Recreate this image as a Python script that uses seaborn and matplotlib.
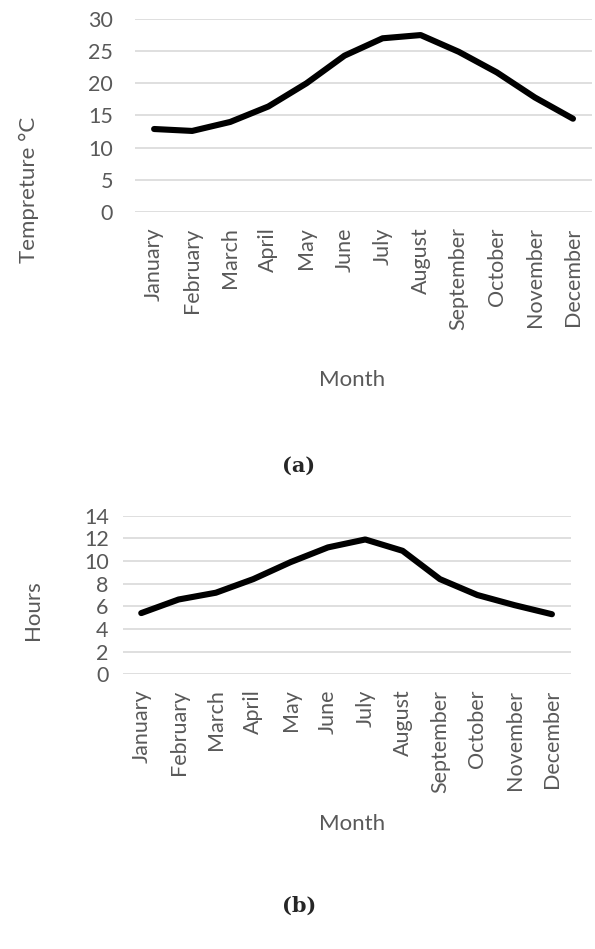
import matplotlib
matplotlib.use("Agg")
import matplotlib.pyplot as plt
import seaborn as sns
import pandas as pd

# Data
months = ["January", "February", "March", "April", "May", "June",
          "July", "August", "September", "October", "November", "December"]
temperature = [12.9, 12.6, 14.0, 16.4, 20.0, 24.3, 27.0, 27.5, 24.9, 21.7, 17.8, 14.5]
sun_hours = [5.4, 6.6, 7.2, 8.4, 9.9, 11.2, 11.9, 10.9, 8.4, 7.0, 6.1, 5.3]

temp_ticks = [0, 5, 10, 15, 20, 25, 30]
hour_ticks = [0, 2, 4, 6, 8, 10, 12, 14]

df_temp = pd.DataFrame({"Month": months, "Value": temperature})
df_hours = pd.DataFrame({"Month": months, "Value": sun_hours})

sns.set_style("white")
plt.rcParams["font.family"] = ["Lato", "DejaVu Sans"]

text_gray = "#595959"
grid_gray = "#d9d9d9"
fs = 15.5

fig = plt.figure(figsize=(5.95, 9.49), dpi=100)

# Top panel (a)
ax1 = fig.add_axes([0.227, 0.7766, 0.768, 0.2034])
# Bottom panel (b)
ax2 = fig.add_axes([0.206, 0.2895, 0.753, 0.1671])


def style_panel(ax, data, ticks, pad):
    sns.lineplot(data=data, x="Month", y="Value", ax=ax, color="black",
                 linewidth=4.4, sort=False, solid_capstyle="round",
                 solid_joinstyle="round")
    ax.set_xlim(-0.5, len(months) - 0.5)
    ax.set_ylim(ticks[0], ticks[-1])
    ax.set_yticks(ticks)
    ax.set_xticks(range(len(months)))
    ax.set_xticklabels(months, rotation=90, fontsize=fs, color=text_gray)
    ax.set_yticklabels([str(t) for t in ticks], fontsize=fs, color=text_gray)
    ax.tick_params(axis="x", length=0, pad=11)
    ax.tick_params(axis="y", length=0, pad=pad)
    ax.grid(axis="y", color=grid_gray, linewidth=1.2)
    ax.set_axisbelow(True)
    for s in ax.spines.values():
        s.set_visible(False)
    ax.set_xlabel("")
    ax.set_ylabel("")


style_panel(ax1, df_temp, temp_ticks, 16)
style_panel(ax2, df_hours, hour_ticks, 10)

fig.text(29 / 595, 1 - 190 / 949, "Tempreture °C", rotation=90, fontsize=16,
         color=text_gray, ha="center", va="center")
fig.text(352 / 595, 1 - 380 / 949, "Month", fontsize=16, color=text_gray,
         ha="center", va="center")
fig.text(299 / 595, 1 - 466 / 949, "(a)", fontsize=15, fontweight="bold",
         family="DejaVu Serif", ha="center", va="center")

fig.text(33 / 595, 1 - 610 / 949, "Hours", rotation=90, fontsize=16,
         color=text_gray, ha="center", va="center")
fig.text(352 / 595, 1 - 824 / 949, "Month", fontsize=16, color=text_gray,
         ha="center", va="center")
fig.text(299 / 595, 1 - 906 / 949, "(b)", fontsize=15, fontweight="bold",
         family="DejaVu Serif", ha="center", va="center")

fig.savefig("out.png", dpi=100)
